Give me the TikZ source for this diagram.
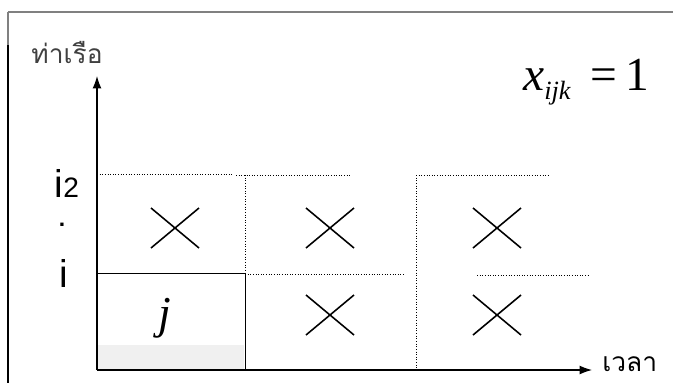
\documentclass[tikz,border=0pt]{standalone}
\usepackage{fontspec}
\setmainfont{Liberation Sans}
\newfontfamily\serifx{Liberation Serif}
\newfontfamily\thaifont[Script=Thai]{Loma}
\usetikzlibrary{arrows.meta}
\begin{document}
\begin{tikzpicture}[x=0.02cm,y=-0.02cm,
  frameline/.style={line width=0.6pt},
  axisline/.style={line width=0.6pt,-{Latex[length=7pt,width=5pt]}},
  gridline/.style={densely dotted,line width=0.5pt},
  boxline/.style={line width=0.7pt},
  cross/.style={line width=0.9pt},
  lab/.style={font=\fontsize{22}{22}\selectfont,inner sep=0pt,anchor=base}]
\useasboundingbox (0,0) rectangle (673,383);
% frame
\draw[frameline,gray] (8,12) -- (673,12);
\draw[frameline,gray] (8,12) -- (8,45);
\draw[line width=1.5pt] (8,45) -- (8,383);
% axes
\coordinate (O) at (97,370);
\coordinate (ytip) at (97,76);
\coordinate (xtip) at (592,370);
\draw[axisline] (O) -- (ytip);
\draw[axisline] (O) -- (xtip);
% grid
\draw[gridline] (97,174) -- (232,174);
\draw[gridline] (236,175) -- (350,175);
\draw[gridline] (416,175) -- (548,175);
\draw[gridline] (245,274) -- (405,274);
\draw[gridline] (477,275) -- (588,275);
\draw[gridline] (245,175) -- (245,370);
\draw[gridline] (416,175) -- (416,370);
% j box
\fill[gray!12] (98,345) rectangle (244,369);
\node[boxline,draw,minimum width=148*0.02cm,minimum height=97*0.02cm,anchor=north west,inner sep=0pt] (jbox) at (97,273) {};
\node[font=\serifx\fontsize{26}{26}\selectfont\itshape] (j) at (165,318) {j};
% crosses
\foreach \n/\cx/\cy in {a/175/228,b/330/228,c/497/228,d/330/315,e/497/315}{
  \coordinate (\n) at (\cx,\cy);
  \draw[cross] ([shift={(-24,-20)}]\n) -- ([shift={(24,20)}]\n);
  \draw[cross] ([shift={(-24,20)}]\n) -- ([shift={(24,-20)}]\n);
}
% labels
\node[font=\thaifont\fontsize{15}{15}\selectfont,text=black!75,anchor=center] (port) at (67,52) {ท่าเรือ};
\node[font=\thaifont\fontsize{15}{15}\selectfont,anchor=base west,inner sep=0pt,text height=8pt,text depth=0pt] (time) at (602,371) {เวลา};
\node[lab,text depth=0pt] (i2) at (67,197) {i\fontsize{16}{16}\selectfont 2};
\node[font=\fontsize{13}{13}\selectfont\bfseries,inner sep=0pt,anchor=base,text height=3pt,text depth=0pt] (dot) at (62,226) {.};
\node[lab] (i) at (64,287) {i};
\node[font=\serifx\fontsize{27}{27}\selectfont,anchor=center] (xeq) at (586,82) {\itshape x\raisebox{-5pt}{\fontsize{15}{15}\selectfont\itshape ijk}\upshape\ \,=\,1};
\end{tikzpicture}
\end{document}
